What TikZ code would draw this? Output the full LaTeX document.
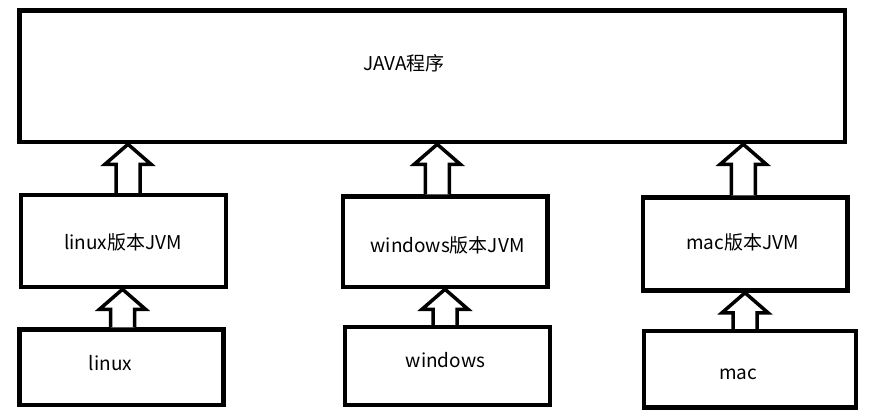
\documentclass[tikz,border=0pt]{standalone}
\usepackage{fontspec}
\setmainfont{Noto Sans CJK SC}
\usetikzlibrary{calc}

% hollow block arrow pointing up, from the top of #1 to the bottom of #2
\newcommand\hollowup[3]{%
  \draw[hollow] let \p1=($(#1.north)+(#3,0)$), \p2=(#2.south) in
    (\x1-12pt,\y1) -- (\x1-12pt,\y2-20pt) -- (\x1-23pt,\y2-20pt) -- (\x1,\y2)
    -- (\x1+23pt,\y2-20pt) -- (\x1+12pt,\y2-20pt) -- (\x1+12pt,\y1);
}

\begin{document}
\begin{tikzpicture}[
  x=1pt, y=-1pt,
  font=\fontsize{19}{22}\selectfont,
  box/.style={draw, line width=4.5pt, inner sep=0pt},
  label/.style={inner sep=0pt, anchor=center},
  hollow/.style={draw, fill=white, line width=3.5pt, line join=miter}
]
\useasboundingbox (0,0) rectangle (884,416);

\node[box, minimum width=825.5, minimum height=131.5] (prog) at (432.25,76.25) {};
\node[box, minimum width=205, minimum height=92] (linuxjvm) at (123.5,241) {};
\node[box, minimum width=204, minimum height=75.5] (linux) at (121.5,367.25) {};
\node[box, minimum width=204.5, minimum height=90.5] (winjvm) at (445.25,241.75) {};
\node[box, minimum width=205, minimum height=78] (win) at (447.5,366) {};
\node[box, minimum width=204.5, minimum height=93] (macjvm) at (745.25,244) {};
\node[box, minimum width=212, minimum height=76.5] (mac) at (750,369.25) {};

\node[label] (progtxt) at (404,63) {JAVA程序};
\node[label] (linuxjvmtxt) at (123,242) {linux版本JVM};
\node[label] (linuxtxt) at (110.5,363) {linux};
\node[label] (winjvmtxt) at (447.5,245) {windows版本JVM};
\node[label] (wintxt) at (445.5,360) {windows};
\node[label] (macjvmtxt) at (742.5,242) {mac版本JVM};
\node[label] (mactxt) at (738,374) {mac};

\hollowup{linuxjvm}{prog}{4.5}
\hollowup{linux}{linuxjvm}{1}
\hollowup{winjvm}{prog}{-8}
\hollowup{win}{winjvm}{-2.5}
\hollowup{macjvm}{prog}{-2}
\hollowup{mac}{macjvm}{-5}
\end{tikzpicture}
\end{document}
